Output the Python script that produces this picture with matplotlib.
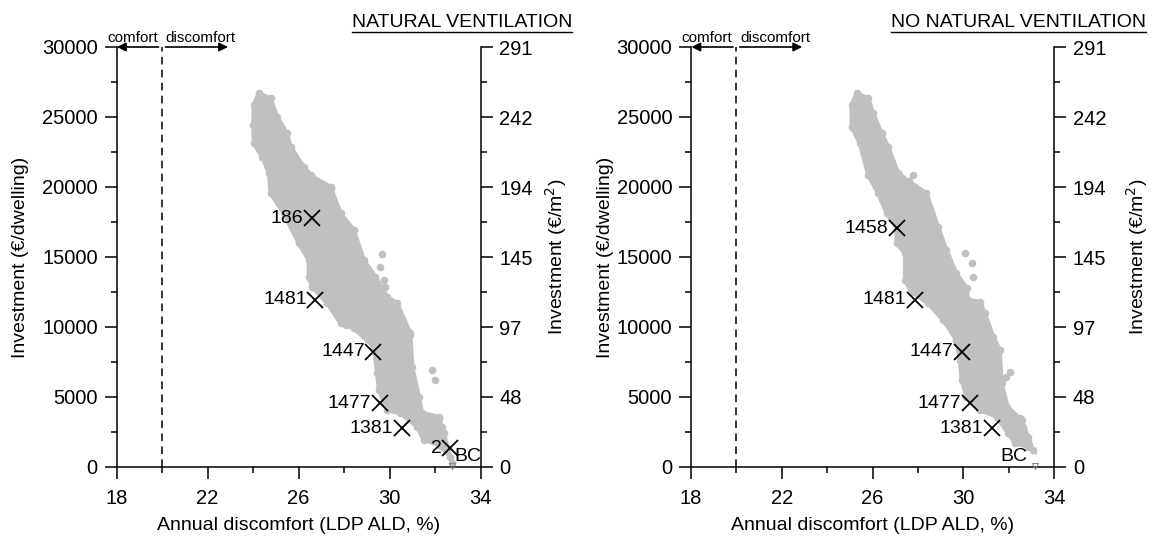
import numpy as np
import matplotlib.pyplot as plt
from matplotlib.lines import Line2D

plt.rcParams['font.family'] = ['Liberation Sans', 'DejaVu Sans']
plt.rcParams['font.size'] = 14

# axis ticks
x_ticks = [18, 22, 26, 30, 34]
x_minor = [20, 24, 28, 32]
y_ticks = [0, 5000, 10000, 15000, 20000, 25000, 30000]
y_minor = [2500, 7500, 12500, 17500, 22500, 27500]
m2_labels = ['0', '48', '97', '145', '194', '242', '291']

# natural ventilation: outline of the solution cloud (ALD %, €/dwelling)
nv_edge_x = [24.25, 24.03, 24.01, 24.03, 24.40, 24.70, 24.77, 25.35, 26.01, 26.45,
             26.45, 26.60, 27.26, 27.85, 28.43, 29.31, 29.46, 29.53, 29.90, 30.48,
             31.21, 31.51, 32.17, 32.68, 32.76,
             32.39, 32.17, 31.43, 31.29, 31.00, 30.92, 30.34, 29.90, 29.38, 28.87,
             28.43, 27.85, 27.41, 26.60, 26.23, 25.65, 25.50, 25.06, 24.77]
nv_edge_y = [26690, 25860, 24430, 23120, 22160, 20980, 19550, 18120, 15980, 14790,
             13590, 12880, 11690, 10260, 9900, 8590, 6690, 5500, 4070, 3830,
             2880, 1930, 1570, 740, 260,
             2400, 3590, 3860, 5020, 7160, 9550, 11690, 12160, 13590, 14790,
             16930, 18120, 20020, 20740, 21450, 22880, 23830, 25020, 26330]
nv_extra_x = [29.68, 29.60, 29.75, 29.82, 26.53, 27.41, 31.87, 32.02, 32.17, 32.32,
              30.92, 28.07, 29.01]
nv_extra_y = [15210, 14310, 13360, 12880, 20860, 19900, 6930, 6210, 3480, 2880,
              9430, 10140, 14190]
nv_sel_names = ['186', '1481', '1447', '1477', '1381', '2']
nv_sel_x = [26.58, 26.73, 29.29, 29.58, 30.54, 32.66]
nv_sel_y = [17760, 11930, 8240, 4550, 2760, 1330]
nv_bc = (32.73, 80)

# no natural ventilation
nn_edge_x = [25.30, 25.08, 25.08, 25.44, 25.81, 26.25, 26.62, 27.06, 27.06, 27.43,
             27.43, 27.72, 28.45, 29.11, 29.70, 29.85, 29.93, 30.14, 30.73, 31.47,
             31.98, 32.27, 32.86, 33.08,
             32.86, 32.57, 31.95, 31.69, 31.61, 31.32, 30.95, 30.73, 30.22, 30.15,
             29.70, 29.26, 28.89, 28.38, 27.60, 27.13, 26.69, 26.40, 26.03, 25.81]
nn_edge_y = [26690, 25860, 24310, 23120, 20860, 19550, 18120, 17050, 15980, 15260,
             13360, 12520, 11690, 10500, 9070, 7640, 6210, 5020, 4070, 3590,
             2400, 1690, 1450, 1210,
             2160, 3360, 4300, 5980, 8360, 9310, 10980, 11810, 11930, 12760,
             13830, 15500, 17160, 19550, 20400, 21000, 22880, 23830, 25260, 26340]
nn_extra_x = [32.05, 31.90, 30.07, 30.37, 30.44, 27.79, 27.87, 32.49, 32.64]
nn_extra_y = [6810, 6400, 15260, 14550, 13590, 20860, 20020, 3480, 2880]
nn_sel_names = ['1458', '1481', '1447', '1477', '1381']
nn_sel_x = [27.07, 27.87, 29.93, 30.29, 31.25]
nn_sel_y = [17070, 11930, 8240, 4550, 2760]
nn_bc = (33.15, 80)

grey = '#c0c0c0'


def draw_panel(ax, edge_x, edge_y, extra_x, extra_y, names, sx, sy, bc, bc_left):
    ax.set_xlim(18, 34)
    ax.set_ylim(0, 30000)
    for s in ['top', 'right']:
        ax.spines[s].set_visible(False)
    ax.spines['left'].set_linewidth(1.1)
    ax.spines['bottom'].set_linewidth(1.1)
    ax.set_xticks(x_ticks)
    ax.set_xticks(x_minor, minor=True)
    ax.set_yticks(y_ticks)
    ax.set_yticks(y_minor, minor=True)
    ax.tick_params(which='major', direction='out', length=8.5, width=1.1, pad=5,
                   labelsize=14.5)
    ax.tick_params(which='minor', direction='out', length=4.5, width=1.1)
    ax.tick_params(axis='x', pad=7)

    # cloud of solutions
    ax.fill(edge_x, edge_y, color=grey, lw=3, zorder=2)
    ax.scatter(edge_x, edge_y, s=30, color=grey, lw=0, zorder=2)
    ax.scatter(extra_x, extra_y, s=30, color=grey, lw=0, zorder=2)

    # selected solutions
    ax.plot(sx, sy, 'x', color='k', ms=11, mew=1.3, zorder=4, clip_on=False)
    for n, x, y in zip(names, sx, sy):
        ax.annotate(n, (x, y), xytext=(-6, 0), textcoords='offset points',
                    ha='right', va='center', fontsize=14, zorder=5)

    # base case
    ax.plot([bc[0]], [bc[1]], marker='v', ms=5, mfc='none', mec='#888888',
            mew=0.8, clip_on=False, zorder=4)
    if bc_left:
        ax.annotate('BC', bc, xytext=(2, 7), textcoords='offset points',
                    ha='left', va='center', fontsize=14)
    else:
        ax.annotate('BC', bc, xytext=(-5, 7), textcoords='offset points',
                    ha='right', va='center', fontsize=14)

    # comfort limit
    ax.plot([20, 20], [0, 30000], color='k', lw=1.1, dashes=(5, 3.5), clip_on=False)
    arrow = dict(arrowstyle='-|>', color='k', lw=1.2, mutation_scale=13,
                 shrinkA=0, shrinkB=0)
    ax.annotate('', xy=(18.02, 30000), xytext=(19.85, 30000), arrowprops=arrow,
                annotation_clip=False)
    ax.annotate('', xy=(22.9, 30000), xytext=(20.15, 30000), arrowprops=arrow,
                annotation_clip=False)
    ax.annotate('comfort', (18.7, 30000), xytext=(0, 1.5), textcoords='offset points',
                ha='center', va='bottom', fontsize=11)
    ax.annotate('discomfort', (21.7, 30000), xytext=(0, 1.5), textcoords='offset points',
                ha='center', va='bottom', fontsize=11)

    ax.set_xlabel('Annual discomfort (LDP ALD, %)', fontsize=14)
    ax.set_ylabel('Investment (€/dwelling)', fontsize=14)

    # second y axis in €/m2
    ax2 = ax.twinx()
    ax2.set_ylim(0, 30000)
    for s in ['top', 'left', 'bottom']:
        ax2.spines[s].set_visible(False)
    ax2.spines['right'].set_linewidth(1.1)
    ax2.set_yticks(y_ticks)
    ax2.set_yticklabels(m2_labels)
    ax2.set_yticks(y_minor, minor=True)
    ax2.tick_params(which='major', direction='out', length=8.5, width=1.1, pad=5,
                    labelsize=14.5)
    ax2.tick_params(which='minor', direction='out', length=4.5, width=1.1)
    ax2.set_ylabel('Investment (€/m$^2$)', fontsize=14)
    return ax2


fig = plt.figure(figsize=(11.52, 5.38), dpi=100)
axl = fig.add_axes([116.5 / 1152, 71 / 538, 364 / 1152, 420 / 538])
axr = fig.add_axes([691 / 1152, 71 / 538, 363 / 1152, 420 / 538])

axl2 = draw_panel(axl, nv_edge_x, nv_edge_y, nv_extra_x, nv_extra_y,
                  nv_sel_names, nv_sel_x, nv_sel_y, nv_bc, True)
axr2 = draw_panel(axr, nn_edge_x, nn_edge_y, nn_extra_x, nn_extra_y,
                  nn_sel_names, nn_sel_x, nn_sel_y, nn_bc, False)

# label anchors: right edge for left labels, left edge for right labels
axl.yaxis.set_label_coords((29 - 116.5) / 364, 0.5)
axl2.yaxis.set_label_coords((543 - 116.5) / 364, 0.5)
axr.yaxis.set_label_coords((614 - 691) / 363, 0.5)
axr2.yaxis.set_label_coords((1124 - 691) / 363, 0.5)
for a in (axl, axr):
    a.xaxis.set_label_coords(0.5, -0.12)

# underlined panel titles
titles = []
for txt, xr in [('NATURAL VENTILATION', 572), ('NO NATURAL VENTILATION', 1146)]:
    titles.append(fig.text(xr / 1152, 1 - 27 / 538, txt, ha='right', va='baseline',
                           fontsize=14))
fig.canvas.draw()
r = fig.canvas.get_renderer()
for t in titles:
    bb = t.get_window_extent(r)
    y = bb.y0 - 1
    fig.add_artist(Line2D([bb.x0 / 1152, bb.x1 / 1152], [y / 538, y / 538],
                          color='k', lw=1.0, transform=fig.transFigure))

fig.savefig('out.png', dpi=100)
